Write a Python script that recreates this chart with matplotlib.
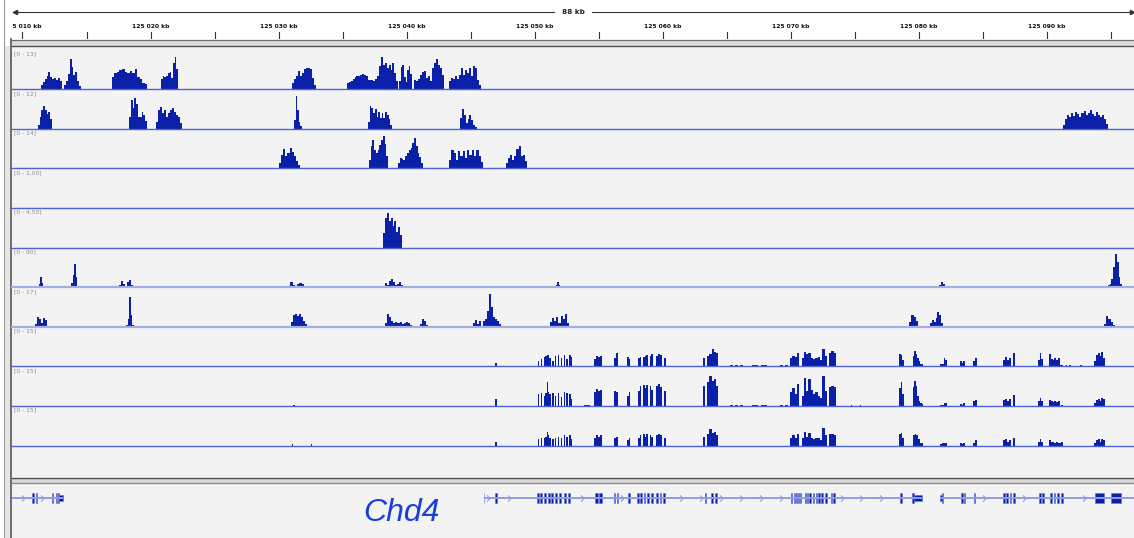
import numpy as np
import matplotlib
matplotlib.use("Agg")
import matplotlib.pyplot as plt
from matplotlib.path import Path
from matplotlib.patches import Rectangle

W, H = 1134, 538

# genomic window, kb counted from 125 000 kb
view_start, view_end = 9.18, 96.83
tick_kb = [10, 20, 30, 40, 50, 60, 70, 80, 90]
tick_labels = ["125 010 kb", "125 020 kb", "125 030 kb", "125 040 kb", "125 050 kb",
               "125 060 kb", "125 070 kb", "125 080 kb", "125 090 kb"]
minor_kb = [15, 25, 35, 45, 55, 65, 75, 85, 95]
span_label = "88 kb"

track_ranges = [13, 12, 14, 1.00, 4.50, 90, 17, 15, 15, 15]
track_labels = ["[0 - 13]", "[0 - 12]", "[0 - 14]", "[0 - 1,00]", "[0 - 4,50]",
                "[0 - 90]", "[0 - 17]", "[0 - 15]", "[0 - 15]", "[0 - 15]"]

# each peak: (start kb, end kb, coverage per bin)
track1 = [
    (11.42, 13.09, [1.3, 2.3, 3.3, 4.3, 5.6, 3.9, 3.3, 3.6, 3.0, 3.6, 2.6]),
    (13.24, 14.57, [1.3, 2.6, 4.9, 9.8, 7.2, 4.6, 5.6, 2.6, 1.0]),
    (16.99, 19.73, [3.9, 5.2, 5.6, 6.2, 6.6, 5.6, 5.2, 5.9, 5.2, 6.6, 3.9, 3.3, 2.0, 1.6]),
    (20.82, 22.15, [3.3, 4.3, 3.9, 4.3, 5.2, 5.6, 3.6, 8.5, 10.5, 6.6]),
    (31.05, 32.93, [2.0, 3.3, 4.3, 5.9, 4.3, 5.2, 6.6, 6.9, 6.9, 6.6, 3.6, 1.3]),
    (35.35, 39.34, [2.0, 2.3, 2.6, 3.3, 3.9, 4.3, 4.3, 4.6, 4.9, 4.6, 4.3, 3.0, 3.0, 3.0,
                    2.6, 3.3, 4.3, 7.5, 10.5, 7.9, 8.5, 6.9, 7.9, 6.2, 8.5, 5.2, 2.6]),
    (39.41, 40.43, [2.6, 7.2, 7.9, 3.9, 2.3, 6.2, 7.5, 5.0]),
    (40.58, 42.93, [3.0, 2.6, 3.3, 4.6, 5.6, 5.9, 3.6, 4.3, 2.6, 6.9, 8.5, 9.8, 7.9, 6.9, 4.6]),
    (43.32, 45.82, [2.6, 3.6, 3.3, 4.3, 3.3, 4.6, 6.9, 4.6, 6.2, 5.2, 6.9, 4.3, 7.5, 6.9, 3.0, 1.3]),
]
track2 = [
    (11.21, 12.30, [1.2, 3.6, 5.8, 7.0, 5.8, 4.5, 5.2, 3.0]),
    (18.32, 19.73, [3.6, 8.8, 6.4, 9.4, 7.6, 3.6, 3.6, 5.2, 4.2, 2.4]),
    (20.43, 22.46, [2.1, 5.8, 6.7, 4.8, 5.8, 3.6, 4.8, 5.8, 6.4, 5.2, 4.2, 3.6, 1.8]),
    (31.21, 31.84, [2.7, 10.0, 5.8, 2.1, 0.9]),
    (36.99, 38.87, [2.1, 7.0, 6.4, 4.8, 6.1, 3.6, 5.2, 3.3, 4.8, 3.3, 5.2, 4.2, 3.0, 1.2]),
    (44.18, 45.51, [3.3, 6.1, 4.2, 1.8, 3.0, 4.2, 2.7, 1.2, 0.6]),
    (91.29, 94.80, [1.2, 3.0, 4.2, 3.6, 4.8, 3.9, 5.2, 4.5, 3.6, 4.8, 5.5, 4.2, 4.8, 5.8,
                    4.5, 3.9, 5.2, 4.2, 3.6, 4.2, 3.0, 1.5]),
]
track3 = [
    (30.04, 31.68, [1.8, 4.6, 6.7, 4.2, 5.3, 7.1, 5.7, 4.2, 2.5, 1.1]),
    (37.07, 38.55, [2.8, 7.8, 9.9, 6.4, 5.3, 6.4, 8.1, 9.9, 11.3, 8.5, 4.2]),
    (39.34, 41.29, [1.8, 3.5, 3.2, 2.8, 4.2, 5.3, 6.4, 7.1, 8.9, 10.6, 7.8, 5.3, 3.9, 1.8]),
    (43.32, 45.98, [2.8, 6.4, 5.3, 2.8, 6.0, 4.2, 6.0, 3.5, 6.4, 4.6, 6.4, 4.2, 6.4, 4.2, 2.1]),
    (47.77, 49.41, [1.8, 3.5, 4.6, 2.8, 4.2, 6.7, 7.8, 4.2, 4.6, 2.5]),
]
track4 = []
track5 = [
    (38.16, 39.65, [1.6, 3.4, 3.9, 3.0, 3.4, 2.5, 3.0, 1.8, 2.3, 1.4]),
]
track6 = [
    (11.29, 11.60, [7, 23, 9]),
    (11.60, 12.54, [2.3]),
    (13.79, 14.26, [9, 27, 52, 23]),
    (17.38, 18.63, [2, 5, 14, 7, 2, 11, 16, 5]),
    (30.74, 32.15, [2, 11, 5, 2, 7, 9, 7, 2]),
    (38.16, 39.73, [2, 9, 5, 14, 18, 11, 5, 7, 11, 5]),
    (51.68, 51.99, [5, 11, 5]),
    (81.60, 82.07, [5, 11, 7]),
    (94.65, 95.90, [2, 5, 7, 18, 45, 75, 57, 23, 7]),
]
track7 = [
    (10.98, 11.91, [1.3, 4.3, 3.4, 1.7, 3.9, 3.0]),
    (18.09, 18.71, [0.9, 3.4, 12.9, 5.1, 0.9]),
    (30.98, 32.23, [2.1, 5.1, 5.6, 4.7, 5.6, 4.3, 2.6, 1.3]),
    (38.32, 40.43, [1.7, 5.6, 4.3, 2.6, 1.7, 2.1, 1.7, 2.1, 1.3, 1.7, 2.1, 1.7, 0.9]),
    (41.05, 41.68, [1.3, 3.4, 2.6, 0.9]),
    (45.20, 45.82, [1.7, 3.0, 1.3, 2.6]),
    (45.98, 47.38, [2.6, 3.4, 6.9, 14.2, 8.6, 4.3, 3.4, 2.6, 1.3]),
    (51.21, 52.70, [2.1, 3.9, 2.6, 4.3, 1.7, 4.7, 3.4, 5.6, 1.7]),
    (79.26, 79.96, [2.1, 5.1, 4.3, 2.6]),
    (80.90, 81.91, [1.7, 3.0, 2.1, 3.9, 6.4, 5.1, 1.7]),
    (94.49, 95.35, [1.3, 4.7, 3.4, 2.1, 0.9]),
]
track8 = [
    (46.91, 47.07, [1.4]),
    (50.27, 52.93, [1.9, 0, 2.7, 0, 3.4, 3.8, 4.2, 4.2, 3.0, 0, 1.9, 0, 3.8, 0, 4.2, 0,
                    3.0, 0, 4.2, 0, 2.7, 0, 4.2, 3.4]),
    (54.65, 55.27, [2.7, 3.8, 3.4, 3.8]),
    (56.21, 56.52, [3.0, 4.9]),
    (57.23, 57.46, [3.4, 2.7]),
    (58.09, 59.26, [3.0, 3.4, 0, 3.4, 3.8, 4.2, 0, 3.8, 4.5]),
    (59.49, 60.27, [3.8, 4.5, 4.2, 0, 3.0]),
    (63.16, 64.34, [3.0, 0, 3.8, 4.5, 6.4, 5.3, 4.9]),
    (65.27, 66.29, [0.4, 0, 0.4, 0, 0.4]),
    (66.99, 68.16, [0.4, 0.4, 0, 0.4, 0.4]),
    (69.18, 69.80, [0.4, 0, 0.4]),
    (69.96, 73.55, [3.0, 3.8, 3.4, 4.9, 0, 3.0, 5.3, 4.5, 4.9, 3.0, 2.7, 3.0, 3.4, 2.3,
                    6.4, 3.8, 0, 4.9, 5.7, 4.9]),
    (78.48, 78.87, [4.5, 4.2, 2.3]),
    (79.57, 80.35, [3.8, 5.7, 4.5, 3.0, 1.9, 0.8, 0.8]),
    (81.68, 82.23, [0.8, 0.8, 3.0, 2.3]),
    (83.24, 83.63, [1.9, 1.1, 1.9]),
    (84.26, 84.57, [1.9, 3.0]),
    (86.60, 87.54, [2.3, 3.4, 2.3, 3.0, 0, 4.9]),
    (89.34, 89.73, [2.3, 4.9, 2.7]),
    (90.20, 91.29, [4.5, 2.7, 2.3, 3.0, 2.3, 3.0, 0.4, 0.4]),
    (91.50, 91.90, [0.4, 0, 0.4]),
    (92.65, 92.75, [0.4]),
    (93.71, 94.57, [1.9, 4.2, 4.9, 3.8, 5.3, 3.0]),
]
track9 = [
    (31.17, 31.25, [0.4]),
    (46.91, 47.07, [2.7]),
    (50.27, 52.93, [4.5, 0, 4.9, 0, 3.8, 4.9, 9.1, 5.3, 4.5, 0, 4.9, 0, 3.8, 0, 4.9, 0,
                    3.4, 0, 5.3, 0, 4.9, 0, 4.5, 2.7]),
    (53.86, 54.33, [0.4]),
    (54.65, 55.27, [5.3, 6.4, 5.7, 6.1]),
    (56.21, 56.52, [5.7, 5.3]),
    (57.23, 57.46, [3.8, 5.3]),
    (58.09, 59.26, [5.7, 7.6, 0, 8.0, 6.8, 8.0, 0, 7.6, 6.1]),
    (59.49, 60.27, [7.6, 8.3, 7.2, 0, 5.7]),
    (63.16, 64.34, [7.6, 0, 9.1, 11.4, 9.5, 10.2, 7.6]),
    (65.27, 66.29, [0.4, 0, 0.4, 0, 0.4]),
    (66.99, 68.16, [0.4, 0.4, 0, 0.4, 0.4]),
    (69.18, 69.80, [0.4, 0, 0.4]),
    (69.96, 73.55, [5.3, 6.8, 4.5, 8.3, 0, 3.8, 10.6, 5.7, 10.2, 6.1, 4.5, 5.3, 3.8, 3.0,
                    11.4, 5.7, 0, 7.2, 7.6, 7.2]),
    (74.74, 74.82, [0.4]),
    (75.39, 75.47, [0.4]),
    (78.48, 78.87, [6.8, 9.1, 4.5]),
    (79.57, 80.35, [7.2, 9.5, 7.6, 3.8, 1.9, 1.1, 0.8]),
    (81.68, 82.23, [0.4, 0.4, 1.1, 1.1]),
    (83.24, 83.63, [0.8, 0.4, 1.1]),
    (84.26, 84.57, [1.9, 2.3]),
    (86.60, 87.54, [2.3, 2.7, 1.9, 2.7, 0, 4.2]),
    (89.34, 89.73, [1.9, 3.0, 1.9]),
    (90.20, 91.29, [2.3, 1.9, 1.5, 1.9, 1.5, 1.9, 0, 0.4]),
    (93.71, 94.57, [1.1, 2.3, 2.7, 1.9, 3.0, 2.7]),
]
track10 = [
    (31.09, 31.17, [0.4]),
    (32.50, 32.58, [0.4]),
    (46.91, 47.07, [1.5]),
    (50.27, 52.93, [2.3, 0, 3.0, 0, 2.7, 3.4, 5.3, 3.8, 3.0, 0, 2.3, 0, 3.0, 0, 3.4, 0,
                    2.7, 0, 3.8, 0, 3.4, 0, 3.8, 2.3]),
    (54.65, 55.27, [3.0, 3.8, 3.4, 3.8]),
    (56.21, 56.52, [2.7, 3.4]),
    (57.23, 57.46, [1.9, 3.0]),
    (58.09, 59.26, [3.0, 3.8, 0, 4.2, 3.4, 4.2, 0, 3.8, 3.4]),
    (59.49, 60.27, [3.8, 4.2, 3.8, 0, 3.0]),
    (63.16, 64.34, [3.4, 0, 4.5, 6.1, 4.9, 5.3, 3.8]),
    (69.96, 73.55, [3.0, 3.8, 3.0, 4.5, 0, 2.7, 5.3, 3.4, 4.9, 3.0, 2.3, 3.0, 2.7, 1.9,
                    6.8, 3.8, 0, 4.2, 4.5, 3.8]),
    (78.48, 78.87, [4.2, 4.9, 3.0]),
    (79.57, 80.35, [3.8, 4.5, 3.8, 2.3, 1.1, 0.8]),
    (81.68, 82.23, [0.4, 1.1, 0.8]),
    (83.24, 83.63, [0.8, 0.4, 0.8]),
    (84.26, 84.57, [1.1, 1.9]),
    (86.60, 87.54, [1.9, 2.3, 1.5, 1.9, 0, 2.7]),
    (89.34, 89.73, [1.5, 2.3, 1.5]),
    (90.20, 91.29, [1.9, 1.5, 1.1, 1.5, 1.1, 1.5]),
    (93.71, 94.57, [1.1, 1.9, 2.3, 1.5, 2.3, 1.9]),
]
tracks = [track1, track2, track3, track4, track5, track6, track7, track8, track9, track10]

# gene annotations (kb)
gene1_introns = [(8.50, 13.17)]
gene1_exons = [(10.76, 10.86), (11.04, 11.14), (12.31, 12.41), (12.58, 12.68), (12.80, 12.88)]
gene1_utrs = [(12.88, 13.17)]
gene1_arrows = [10.04, 11.53]

chd4_name = "Chd4"
chd4_name_kb = 39.6
chd4_introns = [(46.05, 80.27), (81.68, 97.50)]
chd4_exons = [(46.03, 46.07), (46.93, 47.03),
              (50.22, 50.32), (50.46, 50.56), (50.77, 50.87), (51.08, 51.18), (51.32, 51.42),
              (51.63, 51.73), (51.94, 52.04), (52.33, 52.43), (52.65, 52.75),
              (54.73, 54.93), (55.04, 55.24), (56.18, 56.28), (56.42, 56.52), (57.32, 57.42),
              (58.04, 58.14), (58.27, 58.37), (58.54, 58.64), (58.82, 58.92), (59.13, 59.23),
              (59.52, 59.62), (59.79, 59.89), (60.07, 60.17),
              (63.29, 63.39), (63.79, 63.94), (64.12, 64.26),
              (70.01, 70.11), (70.24, 70.34), (70.39, 70.49), (70.58, 70.68), (70.73, 70.83),
              (71.10, 71.20), (71.28, 71.38), (71.47, 71.57), (71.76, 71.86), (71.96, 72.06),
              (72.18, 72.28), (72.41, 72.51), (72.72, 72.82), (73.15, 73.25), (73.35, 73.45),
              (78.58, 78.68), (79.52, 79.62), (81.82, 81.90),
              (83.35, 83.45), (83.54, 83.64), (84.34, 84.44),
              (86.63, 86.73), (86.86, 86.96), (87.14, 87.24), (87.41, 87.51),
              (89.44, 89.54), (89.68, 89.78),
              (90.30, 90.40), (90.57, 90.67), (90.85, 90.95), (91.16, 91.26),
              (93.79, 94.52), (95.04, 95.82)]
chd4_utrs = [(79.62, 80.27), (81.68, 81.80)]
chd4_arrows = [46.38, 48.02, 53.71, 56.80, 61.45, 63.01, 64.57, 66.13, 67.70, 69.26,
               74.02, 75.51, 77.07, 85.12, 88.24, 92.93]

FILL = "#0a20a8"
BASE = "#4d63d2"
BASE_LIGHT = "#a4aee0"
LINE = "#8f9ce2"
PANEL = "#f3f3f3"


def px_axes(fig, x0, y0, x1, y1):
    return fig.add_axes([x0 / W, 1 - y1 / H, (x1 - x0) / W, (y1 - y0) / H])


fig = plt.figure(figsize=(W / 100, H / 100), dpi=100)
fig.patch.set_facecolor("white")

# frame drawn in pixel coordinates
bg = fig.add_axes([0, 0, 1, 1])
bg.set_xlim(0, W)
bg.set_ylim(H, 0)
bg.axis("off")
bg.add_patch(Rectangle((12, 46), W - 12, 431, color=PANEL, lw=0))
bg.add_patch(Rectangle((12, 483), W - 12, 55, color=PANEL, lw=0))
bg.add_patch(Rectangle((12, 40), W - 12, 5.5, color="#dcdcdc", lw=0))
bg.add_patch(Rectangle((12, 478), W - 12, 4.5, color="#d8d8d8", lw=0))
bg.add_patch(Rectangle((4, 46), 7, H - 46, color="#e6e6e6", lw=0))
bg.plot([12, W], [39.5, 39.5], color="#6e6e6e", lw=0.9)
bg.plot([12, W], [45.6, 45.6], color="#4d4d4d", lw=1.0)
bg.plot([12, W], [477.6, 477.6], color="#4d4d4d", lw=1.0)
bg.plot([12, W], [482.6, 482.6], color="#8a8a8a", lw=0.9)
bg.plot([3.7, 3.7], [0, H], color="#9a9a9a", lw=0.8)
bg.plot([11.2, 11.2], [39, H], color="#555555", lw=1.2)

# ruler
ruler = px_axes(fig, 12, 0, W, 39)
ruler.set_xlim(view_start, view_end)
ruler.set_ylim(39, 0)
ruler.axis("off")
mid = (view_start + view_end) / 2
gap = 1.5
ruler.plot([view_start + 0.1, mid - gap], [12, 12], color="#333333", lw=0.8)
ruler.plot([mid + gap, view_end - 0.1], [12, 12], color="#333333", lw=0.8)
ruler.plot([view_start + 0.25], [12], marker="<", ms=3, color="#333333")
ruler.plot([view_end - 0.15], [12], marker=">", ms=3, color="#333333")
ruler.text(mid, 12, span_label, ha="center", va="center", fontsize=5.2,
           fontweight="bold", color="#222222")
for kb, lab in zip(tick_kb, tick_labels):
    ruler.plot([kb, kb], [32, 39], color="#333333", lw=0.8)
    ruler.text(kb, 27, lab, ha="center", va="center", fontsize=4.3,
               fontweight="bold", color="#111111", clip_on=True)
for kb in minor_kb:
    ruler.plot([kb, kb], [32, 39], color="#333333", lw=0.8)

# coverage tracks
for k, (peaks, rng, lab) in enumerate(zip(tracks, track_ranges, track_labels)):
    top = 49.5 + 39.6 * k
    ax = px_axes(fig, 12, top, W, top + 39.6)
    ax.set_xlim(view_start, view_end)
    ax.set_ylim(0, rng)
    ax.axis("off")
    for start, end, h in peaks:
        edges = np.linspace(start, end, len(h) + 1)
        ax.stairs(h, edges, fill=True, color=FILL, lw=0)
    light = k in (5, 6)
    ax.axhline(0, color=BASE_LIGHT if light else BASE, lw=1.6 if light else 1.0,
               clip_on=False)
    bg.text(14, top + 4.3, lab, ha="left", va="center", fontsize=4.3, color="#8c8c8c")

# gene track
chev = Path([(-0.45, 1), (0.45, 0), (-0.45, -1)], [Path.MOVETO, Path.LINETO, Path.LINETO])
gax = px_axes(fig, 12, 483, W, H)
gax.set_xlim(view_start, view_end)
gax.set_ylim(0, 1)
gax.axis("off")
gene_y = 0.73
for introns, exons, utrs, arrows in [(gene1_introns, gene1_exons, gene1_utrs, gene1_arrows),
                                     (chd4_introns, chd4_exons, chd4_utrs, chd4_arrows)]:
    for s, e in introns:
        gax.plot([s, e], [gene_y, gene_y], color=LINE, lw=1.4, solid_capstyle="butt")
    gax.plot(arrows, [gene_y] * len(arrows), ls="none", marker=chev, ms=4.5,
             mec=LINE, mfc="none", mew=0.8)
    gax.broken_barh([(s, e - s) for s, e in exons], (gene_y - 0.095, 0.19),
                    facecolors=FILL, edgecolors="#5d70d6", lw=0.4)
    gax.broken_barh([(s, e - s) for s, e in utrs], (gene_y - 0.05, 0.10),
                    facecolors=FILL, edgecolors="#5d70d6", lw=0.4)
gax.text(chd4_name_kb, 0.46, chd4_name, ha="center", va="center", fontsize=23,
         style="italic", color="#1a3de0", family=["Liberation Sans", "DejaVu Sans"])

fig.savefig("out.png", dpi=100)
